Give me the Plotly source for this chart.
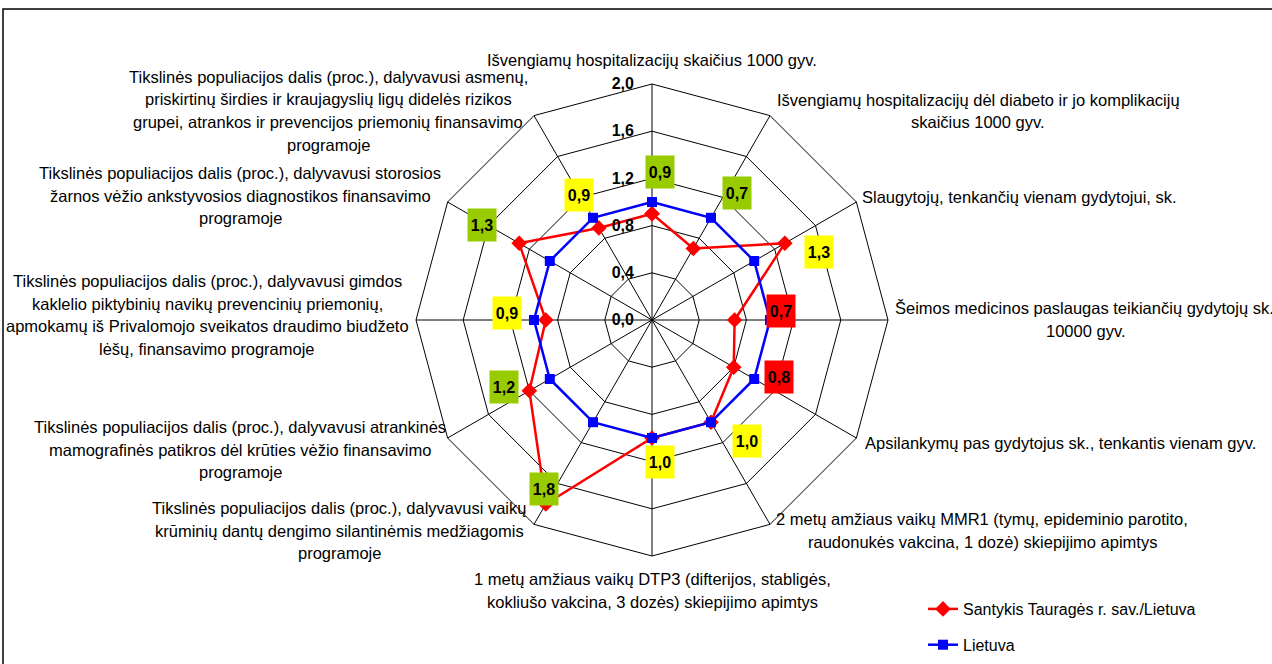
import plotly.graph_objects as go

W, H = 1272, 664

categories = [
    "Išvengiamų hospitalizacijų skaičius 1000 gyv.",
    "Išvengiamų hospitalizacijų dėl diabeto ir jo komplikacijų<br>skaičius 1000 gyv.",
    "Slaugytojų, tenkančių vienam gydytojui, sk.",
    "Šeimos medicinos paslaugas teikiančių gydytojų sk.,<br>10000 gyv.",
    "Apsilankymų pas gydytojus sk., tenkantis vienam gyv.",
    "2 metų amžiaus vaikų MMR1 (tymų, epideminio parotito,<br>raudonukės vakcina, 1 dozė) skiepijimo apimtys",
    "1 metų amžiaus vaikų DTP3 (difterijos, stabligės,<br>kokliušo vakcina, 3 dozės) skiepijimo apimtys",
    "Tikslinės populiacijos dalis (proc.), dalyvavusi vaikų<br>krūminių dantų dengimo silantinėmis medžiagomis<br>programoje",
    "Tikslinės populiacijos dalis (proc.), dalyvavusi atrankinės<br>mamografinės patikros dėl krūties vėžio finansavimo<br>programoje",
    "Tikslinės populiacijos dalis (proc.), dalyvavusi gimdos<br>kaklelio piktybinių navikų prevencinių priemonių,<br>apmokamų iš Privalomojo sveikatos draudimo biudžeto<br>lėšų, finansavimo programoje",
    "Tikslinės populiacijos dalis (proc.), dalyvavusi storosios<br>žarnos vėžio ankstyvosios diagnostikos finansavimo<br>programoje",
    "Tikslinės populiacijos dalis (proc.), dalyvavusi asmenų,<br>priskirtinų širdies ir kraujagyslių ligų didelės rizikos<br>grupei, atrankos ir prevencijos priemonių finansavimo<br>programoje",
]
taurage_ratio = [0.9, 0.7, 1.3, 0.7, 0.8, 1.0, 1.0, 1.8, 1.2, 0.9, 1.3, 0.9]
lietuva = [1.0, 1.0, 1.0, 1.0, 1.0, 1.0, 1.0, 1.0, 1.0, 1.0, 1.0, 1.0]
series_names = ["Santykis Tauragės r. sav./Lietuva", "Lietuva"]
radial_ticks = [0.0, 0.4, 0.8, 1.2, 1.6, 2.0]

# ---- layout (pixel positions of text blocks) ----
label_pos = [  # (block centre x, first line y)
    (652, 60), (978, 100), (1019, 197), (1086, 308), (1060, 443), (982, 519),
    (652, 579), (339, 508), (240, 427), (207, 281), (240, 173), (328, 77),
]
value_box_pos = [
    (660, 172), (737, 193), (819, 252), (781, 311), (779, 377), (747, 441),
    (660, 462), (544, 489), (504, 387), (507, 313), (482, 225), (579, 195),
]
value_box_col = ["#99cc00", "#99cc00", "#ffff00", "#ff0000", "#ff0000", "#ffff00",
                 "#ffff00", "#99cc00", "#99cc00", "#ffff00", "#99cc00", "#ffff00"]
LINE = 22.5
FONT = "Liberation Sans, Arial, sans-serif"

cx, cy, R = 652, 320, 236


def px(x):
    return x / W


def py(y):
    return 1 - y / H


fig = go.Figure()
fig.add_trace(go.Scatterpolar(
    r=taurage_ratio + [taurage_ratio[0]], theta=categories + [categories[0]],
    mode="lines+markers", name=series_names[0], legendgroup="a",
    line=dict(color="#ff0000", width=2.5),
    marker=dict(symbol="diamond", size=12, color="#ff0000"),
))
fig.add_trace(go.Scatterpolar(
    r=lietuva + [lietuva[0]], theta=categories + [categories[0]],
    mode="lines+markers", name=series_names[1], legendgroup="b",
    line=dict(color="#0000ff", width=2.5),
    marker=dict(symbol="square", size=10, color="#0000ff"),
))

annotations = []
for cat, (x, y) in zip(categories, label_pos):
    for i, line in enumerate(cat.split("<br>")):
        annotations.append(dict(
            x=px(x), y=py(y + i * LINE), xref="paper", yref="paper",
            text=line, showarrow=False, xanchor="center", yanchor="middle",
            font=dict(family=FONT, size=16.5, color="#000000"),
        ))
for v, (x, y), col in zip(taurage_ratio, value_box_pos, value_box_col):
    annotations.append(dict(
        x=px(x), y=py(y), xref="paper", yref="paper",
        text="<b>" + f"{v:.1f}".replace(".", ",") + "</b>", showarrow=False,
        xanchor="center", yanchor="middle", bgcolor=col, width=26, height=30,
        font=dict(family=FONT, size=16, color="#000000"),
    ))

fig.update_layout(
    width=W, height=H,
    margin=dict(l=0, r=0, t=0, b=0),
    paper_bgcolor="white", plot_bgcolor="white",
    separators=", ",
    font=dict(family=FONT, size=16, color="#000000"),
    polar=dict(
        domain=dict(x=[px(cx - R), px(cx + R)], y=[py(cy + R), py(cy - R)]),
        bgcolor="white",
        gridshape="linear",
        angularaxis=dict(
            direction="clockwise", rotation=90, showticklabels=False, ticks="",
            showline=True, linecolor="#000000", linewidth=1,
            showgrid=True, gridcolor="#000000", gridwidth=1,
        ),
        radialaxis=dict(
            range=[0, 2], tickvals=radial_ticks, tickformat=".1f", angle=90,
            tickangle=90, ticks="outside", ticklen=12, tickcolor="rgba(0,0,0,0)",
            showline=False, showgrid=True, gridcolor="#000000", gridwidth=1,
            tickfont=dict(family=FONT, size=16, color="#000000", weight="bold"),
            side="counterclockwise",
        ),
    ),
    legend=dict(
        x=px(923), y=py(592), xanchor="left", yanchor="top",
        font=dict(family=FONT, size=16, color="#000000"),
        bgcolor="rgba(0,0,0,0)", tracegroupgap=12,
    ),
    annotations=annotations,
    shapes=[dict(type="rect", xref="paper", yref="paper",
                 x0=px(3), x1=1.05, y0=-0.05, y1=py(9),
                 line=dict(color="#000000", width=1.5))],
)

fig.write_html(
    "out.html",
    config={"displayModeBar": False},
    post_script="document.body.style.margin='0';document.body.style.overflow='hidden';",
)
